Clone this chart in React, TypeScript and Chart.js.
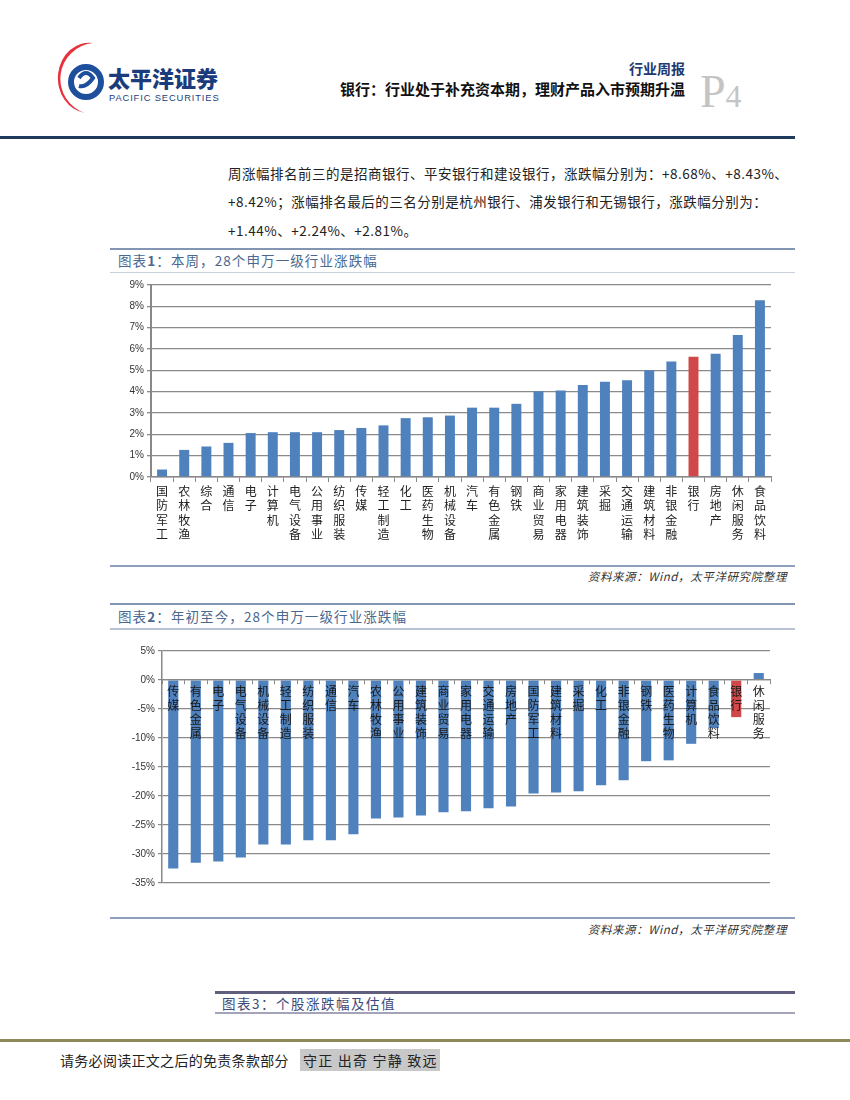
import React, { useEffect, useRef } from "react";
import { Chart, registerables } from "chart.js";

Chart.register(...registerables);

const weekCategories = ["国防军工","农林牧渔","综合","通信","电子","计算机","电气设备","公用事业","纺织服装","传媒","轻工制造","化工","医药生物","机械设备","汽车","有色金属","钢铁","商业贸易","家用电器","建筑装饰","采掘","交通运输","建筑材料","非银金融","银行","房地产","休闲服务","食品饮料"];
const weekValues = [0.35,1.27,1.43,1.6,2.06,2.1,2.1,2.1,2.2,2.3,2.42,2.76,2.8,2.88,3.25,3.25,3.43,4.02,4.05,4.31,4.46,4.54,5.0,5.41,5.64,5.78,6.66,8.28];

const ytdCategories = ["传媒","有色金属","电子","电气设备","机械设备","轻工制造","纺织服装","通信","汽车","农林牧渔","公用事业","建筑装饰","商业贸易","家用电器","交通运输","房地产","国防军工","建筑材料","采掘","化工","非银金融","钢铁","医药生物","计算机","食品饮料","银行","休闲服务"];
const ytdValues = [-32.5,-31.5,-31.3,-30.6,-28.35,-28.35,-27.65,-27.65,-26.6,-23.9,-23.7,-23.35,-22.8,-22.65,-22.1,-21.8,-19.55,-19.4,-19.2,-18.15,-17.3,-14.0,-13.85,-11.0,-8.3,-6.4,1.2];

const highlight = "银行";
const BLUE = "#4f81bd";
const RED = "#d0494a";
const CJK = '"Noto Sans CJK SC", "Noto Sans", sans-serif';

function WeekChart() {
  const ref = useRef<HTMLCanvasElement>(null);
  useEffect(() => {
    const chart = new Chart(ref.current!, {
      type: "bar",
      data: {
        labels: weekCategories.map((c) => c.split("")),
        datasets: [{
          data: weekValues,
          backgroundColor: weekCategories.map((c) => (c === highlight ? RED : BLUE)),
          barPercentage: 0.45,
          categoryPercentage: 1,
        }],
      },
      options: {
        animation: false,
        responsive: false,
        plugins: { legend: { display: false }, tooltip: { enabled: false } },
        layout: { padding: { left: 3, right: 24, top: 7, bottom: 0 } },
        scales: {
          x: {
            grid: { display: true, drawOnChartArea: false, drawTicks: true, tickLength: 5, color: "#888", offset: true },
            border: { color: "#888", width: 1.5 },
            ticks: { autoSkip: false, maxRotation: 0, minRotation: 0, padding: 2, color: "#222", font: { family: CJK, size: 12, lineHeight: 1.2 } },
            afterFit: (s: any) => { s.height = 84; },
          },
          y: {
            min: 0, max: 9,
            ticks: { stepSize: 1, callback: (v: any) => v + "%", color: "#333", font: { family: "Liberation Sans", size: 10 }, padding: 3 },
            grid: { color: "#8a8a8a", lineWidth: 1.3, tickLength: 4 },
            border: { color: "#888", width: 2 },
            afterFit: (s: any) => { s.width = 38; },
          },
        },
      },
    });
    return () => chart.destroy();
  }, []);
  return <canvas ref={ref} width={685} height={285} style={{ position: "absolute", left: 110, top: 276 }} />;
}

function YtdChart() {
  const ref = useRef<HTMLCanvasElement>(null);
  useEffect(() => {
    const chart = new Chart(ref.current!, {
      type: "bar",
      data: {
        labels: ytdCategories.map((c) => c.split("")),
        datasets: [{
          data: ytdValues,
          backgroundColor: ytdCategories.map((c) => (c === highlight ? RED : BLUE)),
          barPercentage: 0.45,
          categoryPercentage: 1,
        }],
      },
      options: {
        animation: false,
        responsive: false,
        plugins: { legend: { display: false }, tooltip: { enabled: false } },
        layout: { padding: { left: 0, right: 25, top: 11, bottom: 32 } },
        scales: {
          x: {
            position: { y: 0 } as any,
            grid: { display: true, drawOnChartArea: false, drawTicks: true, tickLength: 4, color: "#888", offset: true, z: 1 },
            border: { color: "#888", width: 1.2, z: 1 },
            ticks: { z: 2, autoSkip: false, maxRotation: 0, minRotation: 0, padding: 1, color: "#1a1a1a", font: { family: CJK, size: 12, lineHeight: 1.15 } },
          },
          y: {
            min: -35, max: 5,
            ticks: { stepSize: 5, callback: (v: any) => v + "%", color: "#333", font: { family: "Liberation Sans", size: 10 }, padding: 3 },
            grid: { color: "#8a8a8a", lineWidth: 1.2, tickLength: 4 },
            border: { color: "#888", width: 1.5 },
            afterFit: (s: any) => { s.width = 52; },
          },
        },
      },
    });
    return () => chart.destroy();
  }, []);
  return <canvas ref={ref} width={685} height={275} style={{ position: "absolute", left: 110, top: 640 }} />;
}

function Logo() {
  return (
    <svg width={180} height={80} style={{ position: "absolute", left: 55, top: 38 }} viewBox="0 0 180 80">
      <path d="M 38 5 A 36 36 0 0 0 30 75 A 30 34 0 0 1 38 5 Z" fill="#e6323c" />
      <circle cx={31} cy={44} r={15} fill="none" stroke="#1d4f9c" strokeWidth={6} />
      <path d="M 24 40 Q 31 30 38 40 Q 31 50 24 48" fill="none" stroke="#1d4f9c" strokeWidth={4} />
      <text x={53} y={49} fontFamily={CJK} fontWeight={900} fontSize={22} fill="#1a3c7c">太平洋证券</text>
      <text x={54} y={63} fontFamily="Liberation Sans, Arial, sans-serif" fontSize={9.3} letterSpacing={0.9} fill="#1a3c7c">PACIFIC SECURITIES</text>
    </svg>
  );
}

const hline = (top: number, left: number, width: number, h: number, color: string) => (
  <div style={{ position: "absolute", top, left, width, height: h, background: color }} />
);

const sourceText = "资料来源：Wind，太平洋研究院整理";

export default function App() {
  const para: React.CSSProperties = { position: "absolute", left: 228, fontFamily: CJK, fontSize: 13.5, color: "#222", whiteSpace: "nowrap", lineHeight: "16px", letterSpacing: 0.5 };
  const title: React.CSSProperties = { position: "absolute", left: 118, fontFamily: CJK, fontSize: 13.5, color: "#4a6890", whiteSpace: "nowrap", lineHeight: "16px", letterSpacing: 1.1 };
  const source: React.CSSProperties = { position: "absolute", right: 63, fontFamily: CJK, fontSize: 11.5, fontStyle: "italic", color: "#333", whiteSpace: "nowrap", lineHeight: "14px", letterSpacing: 0.6 };
  return (
    <div style={{ position: "absolute", left: 0, top: 0, width: 850, height: 1100, background: "#fff", overflow: "hidden" }}>
      <Logo />
      <div style={{ position: "absolute", right: 165, top: 60, fontFamily: CJK, fontWeight: 700, fontSize: 14, color: "#1f3a70", lineHeight: "16px" }}>行业周报</div>
      <div style={{ position: "absolute", right: 165, top: 80, fontFamily: CJK, fontWeight: 700, fontSize: 15, color: "#111", lineHeight: "17px", whiteSpace: "nowrap" }}>银行：行业处于补充资本期，理财产品入市预期升温</div>
      <div style={{ position: "absolute", left: 700, top: 68, fontFamily: '"Liberation Serif", serif', color: "#c4c4c4", lineHeight: "48px", whiteSpace: "nowrap" }}>
        <span style={{ fontSize: 46 }}>P</span><span style={{ fontSize: 32 }}>4</span>
      </div>
      {hline(136, 0, 795, 3, "#1f3a5c")}

      <div style={{ ...para, top: 165 }}>周涨幅排名前三的是招商银行、平安银行和建设银行，涨跌幅分别为：+8.68%、+8.43%、</div>
      <div style={{ ...para, top: 193 }}>+8.42%；涨幅排名最后的三名分别是杭州银行、浦发银行和无锡银行，涨跌幅分别为：</div>
      <div style={{ ...para, top: 222 }}>+1.44%、+2.24%、+2.81%。</div>

      {hline(248, 110, 685, 2, "#8296b4")}
      <div style={{ ...title, top: 252 }}>图表<b>1</b>：本周，28个申万一级行业涨跌幅</div>
      {hline(272, 110, 685, 1, "#c8d0dc")}
      <WeekChart />
      {hline(565, 110, 685, 2, "#8ea0bd")}
      <div style={{ ...source, top: 569 }}>{sourceText}</div>

      {hline(603, 110, 685, 2, "#8296b4")}
      <div style={{ ...title, top: 608 }}>图表<b>2</b>：年初至今，28个申万一级行业涨跌幅</div>
      {hline(628, 110, 685, 2, "#b8c2d2")}
      <YtdChart />
      {hline(917, 110, 685, 2, "#8ea0bd")}
      <div style={{ ...source, top: 922 }}>{sourceText}</div>

      {hline(991, 215, 580, 3, "#60607e")}
      <div style={{ ...title, left: 222, top: 995, color: "#3d4a7a", letterSpacing: 1.5 }}>图表3：个股涨跌幅及估值</div>
      {hline(1012, 215, 580, 2, "#a4a4b8")}

      {hline(1039, 0, 850, 3, "#8f895a")}
      <div style={{ position: "absolute", left: 60, top: 1052, fontFamily: CJK, fontSize: 14, color: "#222", lineHeight: "17px", whiteSpace: "nowrap", letterSpacing: 0.3 }}>请务必阅读正文之后的免责条款部分</div>
      <div style={{ position: "absolute", left: 300, top: 1049, width: 140, height: 22, background: "#c8c8c8" }} />
      <div style={{ position: "absolute", left: 303, top: 1052, fontFamily: CJK, fontSize: 14, color: "#222", lineHeight: "17px", whiteSpace: "pre", letterSpacing: 1.2 }}>守正 出奇 宁静 致远</div>
    </div>
  );
}
